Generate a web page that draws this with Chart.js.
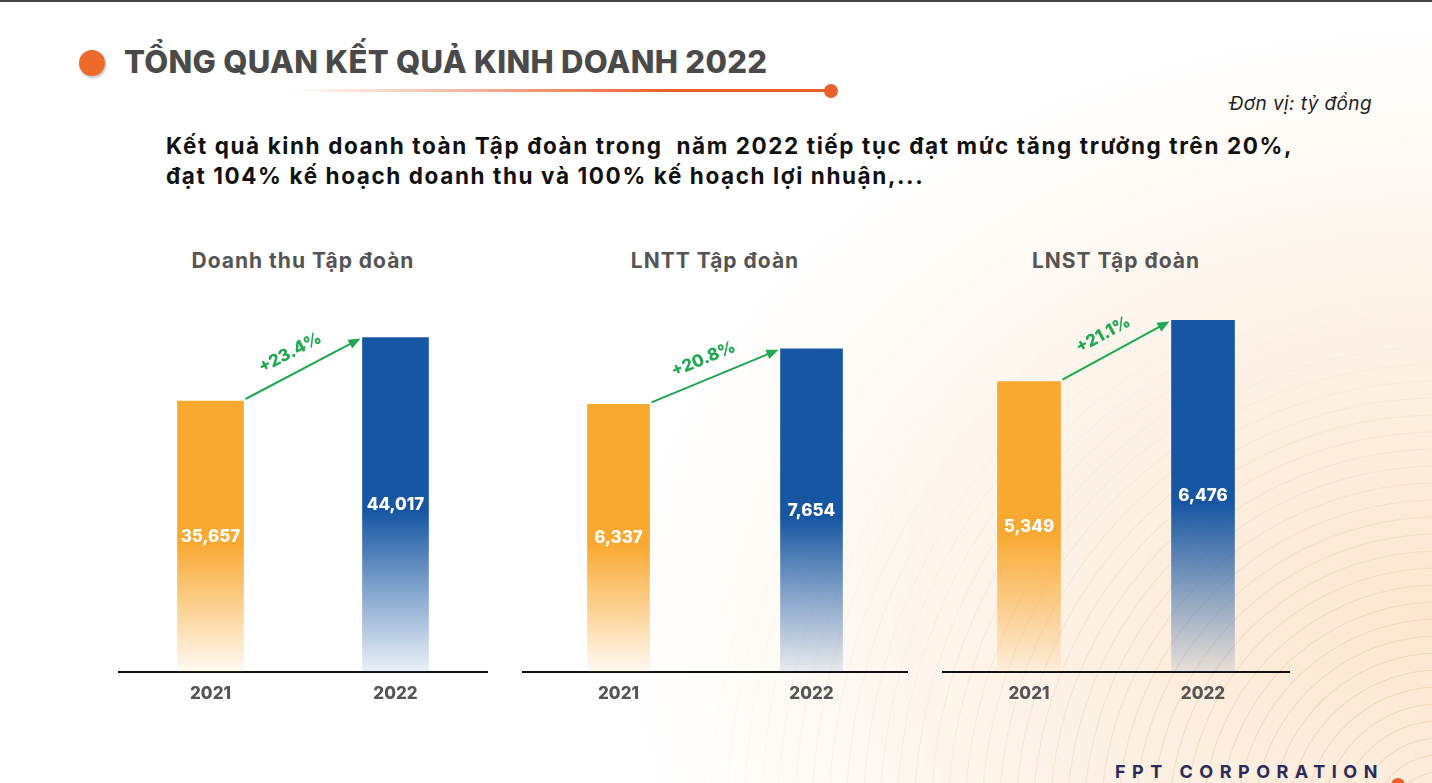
<!DOCTYPE html>
<html>
<head>
<meta charset="utf-8">
<script src="https://cdn.jsdelivr.net/npm/chart.js@4.4.0/dist/chart.umd.min.js"></script>
<style>
  html, body { margin:0; padding:0; }
  body { width:1432px; height:783px; overflow:hidden; font-family:Inter, "Noto Sans", sans-serif; }
  #slide {
    position:relative; width:1432px; height:783px; overflow:hidden;
    border-top:2px solid #444; box-sizing:border-box;
    background:
      radial-gradient(ellipse 950px 700px at 1432px 620px, #fce6cf 0%, #fdf1e5 40%, rgba(255,255,255,0) 85%),
      #fff;
  }
  #waves {
    position:absolute; left:0; top:0; width:1432px; height:783px;
    background:repeating-radial-gradient(circle at 1440px 820px, rgba(225,185,140,0) 0px, rgba(225,185,140,0) 15px, rgba(220,175,125,0.35) 16px, rgba(225,185,140,0) 17px);
    -webkit-mask-image:radial-gradient(ellipse 800px 520px at 1432px 783px, #000 20%, transparent 100%);
    mask-image:radial-gradient(ellipse 800px 520px at 1432px 783px, #000 20%, transparent 100%);
  }
  .abs { position:absolute; }
  #dot { left:79px; top:48px; width:26px; height:26px; border-radius:50%; background:#ee6a2b; box-shadow:1px 2px 3px rgba(0,0,0,0.25); }
  #title { left:124px; top:41px; font-size:31px; font-weight:800; color:#4a4a4a; white-space:nowrap; letter-spacing:0.3px; }
  #rule { left:290px; top:87px; width:540px; height:3px; background:linear-gradient(90deg, rgba(232,96,44,0), #e8602c 70%); }
  #ruleDot { left:824px; top:82px; width:14px; height:14px; border-radius:50%; background:#e8602c; }
  #unit { right:60px; top:90px; font-size:19px; font-style:italic; color:#222; letter-spacing:0.4px; }
  #lead { left:166px; top:129px; font-size:22.5px; font-weight:700; color:#111; line-height:30px; white-space:nowrap; letter-spacing:1.6px; }
  .ctitle { top:246px; width:400px; margin-left:-200px; text-align:center; font-size:21px; font-weight:700; color:#555; letter-spacing:1px; }
  canvas.chart { position:absolute; top:290px; }
  #footer { left:1115px; top:759px; font-size:18px; font-weight:700; letter-spacing:6.5px; color:#2a2b5b; white-space:nowrap; }
  #footDot { left:1391px; top:776px; width:14px; height:14px; border-radius:50%; background:#e8602c; }
</style>
</head>
<body>
<div id="slide">
  <div id="waves"></div>
  <div id="dot" class="abs"></div>
  <div id="title" class="abs">TỔNG QUAN KẾT QUẢ KINH DOANH 2022</div>
  <div id="rule" class="abs"></div>
  <div id="ruleDot" class="abs"></div>
  <div id="unit" class="abs">Đơn vị: tỷ đồng</div>
  <div id="lead" class="abs">Kết quả kinh doanh toàn Tập đoàn trong&nbsp; năm 2022 tiếp tục đạt mức tăng trưởng trên 20%,<br>đạt 104% kế hoạch doanh thu và 100% kế hoạch lợi nhuận,...</div>

  <div class="abs ctitle" id="t0" style="left:303px"></div>
  <div class="abs ctitle" id="t1" style="left:715px"></div>
  <div class="abs ctitle" id="t2" style="left:1116px"></div>

  <canvas class="chart" id="c0" width="370" height="420" style="left:118px"></canvas>
  <canvas class="chart" id="c1" width="386" height="420" style="left:522px"></canvas>
  <canvas class="chart" id="c2" width="348" height="420" style="left:942px"></canvas>

  <div id="footer" class="abs">FPT CORPORATION</div>
  <div id="footDot" class="abs"></div>
</div>

<script>
// data (tỷ đồng)
const years = ['2021', '2022'];
const revenue = [35657, 44017];
const profitBeforeTax = [6337, 7654];
const profitAfterTax = [5349, 6476];
const growth = ['+23.4%', '+20.8%', '+21.1%'];
const chartTitles = ['Doanh thu Tập đoàn', 'LNTT Tập đoàn', 'LNST Tập đoàn'];
const yMax = [50000, 9000, 7000];
const barWidths = [66, 62, 63];

const ORANGE = [249, 168, 48];
const BLUE = [23, 86, 162];
const GREEN = '#1ea84f';

const rgba = (c, a) => `rgba(${c[0]},${c[1]},${c[2]},${a})`;
const fmt = n => n.toLocaleString('en-US');

// bar fill: solid on top half, fading to near white at the base
function barFill(ctx){
  const chart = ctx.chart, area = chart.chartArea;
  const col = ctx.dataIndex === 0 ? ORANGE : BLUE;
  if(!area || ctx.parsed == null) return rgba(col, 1);
  const top = chart.scales.y.getPixelForValue(ctx.parsed.y);
  const g = chart.ctx.createLinearGradient(0, top, 0, area.bottom);
  g.addColorStop(0, rgba(col, 1));
  g.addColorStop(0.52, rgba(col, 1));
  g.addColorStop(0.75, rgba(col, 0.55));
  g.addColorStop(1, rgba(col, ctx.dataIndex === 0 ? 0.06 : 0.09));
  return g;
}

// values inside bars + growth arrow
const annotate = {
  id:'annotate',
  afterDatasetsDraw(chart, args, opts){
    const c = chart.ctx;
    const bars = chart.getDatasetMeta(0).data;
    const vals = chart.data.datasets[0].data;
    c.save();
    c.font = '800 17px Inter, sans-serif';
    c.fillStyle = '#fff';
    c.textAlign = 'center';
    c.textBaseline = 'middle';
    bars.forEach((b, i) => c.fillText(fmt(vals[i]), b.x, (b.y + b.base) / 2));

    const b0 = bars[0], b1 = bars[1];
    const x0 = b0.x + b0.width / 2 + 2, y0 = b0.y - 2;
    const x1 = b1.x - b1.width / 2 - 2, y1 = b1.y + 1;
    const ang = Math.atan2(y1 - y0, x1 - x0);
    c.strokeStyle = GREEN; c.fillStyle = GREEN; c.lineWidth = 2;
    c.beginPath(); c.moveTo(x0, y0);
    c.lineTo(x1 - 10 * Math.cos(ang), y1 - 10 * Math.sin(ang)); c.stroke();
    c.beginPath();
    c.moveTo(x1, y1);
    c.lineTo(x1 - 12 * Math.cos(ang) + 5 * Math.sin(ang), y1 - 12 * Math.sin(ang) - 5 * Math.cos(ang));
    c.lineTo(x1 - 12 * Math.cos(ang) - 5 * Math.sin(ang), y1 - 12 * Math.sin(ang) + 5 * Math.cos(ang));
    c.closePath(); c.fill();

    const tx = x0 + (x1 - x0) * 0.47 + 20 * Math.sin(ang);
    const ty = y0 + (y1 - y0) * 0.47 - 20 * Math.cos(ang);
    c.translate(tx, ty); c.rotate(ang);
    c.font = '800 17px Inter, sans-serif';
    c.fillText(opts.label, 0, 0);
    c.restore();
  }
};

function makeChart(id, values, max, label, barW){
  return new Chart(document.getElementById(id), {
    type:'bar',
    data:{ labels:years, datasets:[{ data:values, backgroundColor:barFill, barThickness:barW, borderWidth:0 }] },
    options:{
      responsive:false, animation:false,
      layout:{ padding:0 },
      plugins:{ legend:{display:false}, tooltip:{enabled:false}, annotate:{ label } },
      scales:{
        x:{
          grid:{ display:false, drawTicks:false },
          border:{ display:true, color:'#111', width:2 },
          ticks:{ color:'#555', padding:12, font:{ family:'Inter, sans-serif', size:17, weight:'800' } },
          afterFit(s){ s.height = 40; }
        },
        y:{ display:false, min:0, max:max }
      }
    },
    plugins:[annotate]
  });
}

chartTitles.forEach((t, i) => { document.getElementById('t' + i).textContent = t; });
makeChart('c0', revenue, yMax[0], growth[0], barWidths[0]);
makeChart('c1', profitBeforeTax, yMax[1], growth[1], barWidths[1]);
makeChart('c2', profitAfterTax, yMax[2], growth[2], barWidths[2]);
</script>
</body>
</html>
